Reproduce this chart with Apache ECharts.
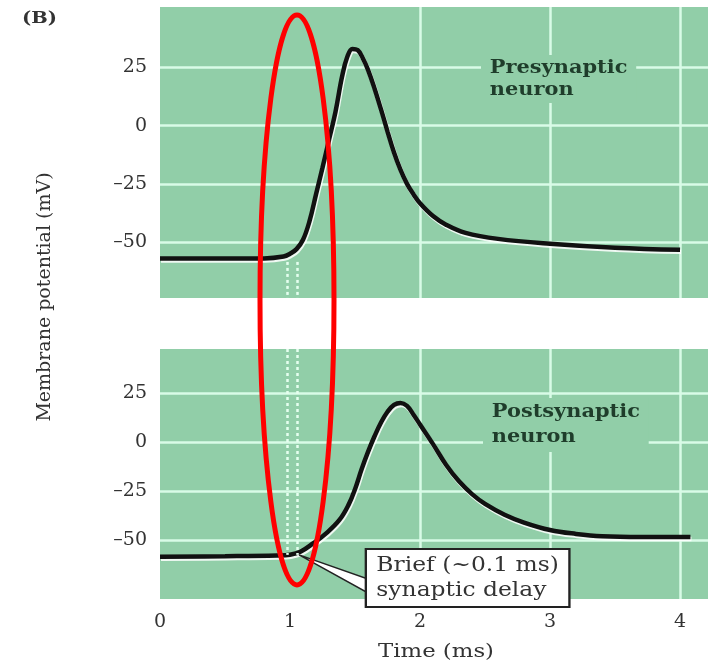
<!DOCTYPE html>
<html>
<head>
<meta charset="utf-8">
<script src="https://cdn.jsdelivr.net/npm/echarts@6.0.0/dist/echarts.min.js"></script>
<style>
html, body { margin: 0; padding: 0; background: #fff; }
#chart { width: 708px; height: 663px; }
</style>
</head>
<body>
<div id="chart"></div>
<script>
// axis ticks
const timeTicks = [0, 1, 2, 3, 4]
const timeGridLines = [2, 3, 4]
const mvTicks = [-50, -25, 0, 25]

// presynaptic action potential (ms, mV)
const preTime = [0, 0.4, 0.8, 0.95, 1.0, 1.05, 1.1, 1.15, 1.2, 1.25, 1.3, 1.35, 1.4, 1.44, 1.48, 1.52, 1.56, 1.6, 1.65, 1.7, 1.75, 1.8, 1.85, 1.9, 1.95, 2.0, 2.1, 2.2, 2.35, 2.6, 3.0, 3.5, 4.0]
const preMv = [-57, -57, -57, -56.2, -55, -53, -49, -41, -29.5, -18, -6, 6, 21, 29.5, 33, 32.5, 29, 24, 16, 7, -2.5, -11.5, -19, -25, -29.5, -33.3, -38.8, -42.5, -46, -48.6, -50.7, -52.4, -53.3]

// postsynaptic potential (ms, mV)
const postTime = [0, 0.5, 0.9, 1.0, 1.08, 1.18, 1.28, 1.38, 1.45, 1.5, 1.55, 1.6, 1.65, 1.7, 1.75, 1.8, 1.85, 1.9, 1.95, 2.0, 2.1, 2.2, 2.3, 2.4, 2.5, 2.65, 2.8, 3.0, 3.2, 3.4, 3.7, 4.08]
const postMv = [-58.5, -58.2, -57.8, -57.4, -55.9, -51.5, -46.4, -39.7, -32, -24, -14, -5, 3, 10, 15.5, 19, 20, 18.5, 14, 9, -1, -11.5, -20, -26.5, -31.5, -37, -41, -44.8, -46.8, -48, -48.4, -48.4]

// synaptic delay markers (ms)
const delayMarks = [0.977, 1.054]

const panelGreen = '#91cea8'
const gridWhite = '#d9fbe7'
const serif = 'DejaVu Serif'

function pairs(xs, ys) {
    return xs.map((x, i) => [x, ys[i]])
}

let myChart = echarts.init(document.getElementById('chart'))

function yAxisOf(gridIndex, min, max) {
    return {
        type: 'value',
        gridIndex: gridIndex,
        min: min,
        max: max,
        axisLine: { show: false },
        axisTick: { show: false, customValues: mvTicks },
        axisLabel: {
            customValues: mvTicks,
            margin: 13,
            color: '#333',
            fontFamily: serif,
            fontSize: 19,
            formatter: v => String(v).replace('-', '–')
        },
        splitLine: { show: true, lineStyle: { color: gridWhite, width: 2.5 } }
    }
}

function xAxisOf(gridIndex, showLabel) {
    return {
        type: 'value',
        gridIndex: gridIndex,
        min: 0,
        max: 4.215,
        axisLine: { show: false },
        axisTick: { show: false, customValues: timeGridLines },
        axisLabel: {
            show: showLabel,
            customValues: timeTicks,
            margin: 14,
            color: '#333',
            fontFamily: serif,
            fontSize: 19
        },
        splitLine: { show: true, lineStyle: { color: gridWhite, width: 2.5 } }
    }
}

const traceStyle = {
    color: '#111',
    width: 4.5,
    shadowColor: 'rgba(255,255,255,0.85)',
    shadowOffsetX: 1,
    shadowOffsetY: 2,
    shadowBlur: 0
}

function delayLines(fromMv, toMv) {
    return {
        silent: true,
        symbol: 'none',
        label: { show: false },
        lineStyle: { color: '#e6fff0', width: 2.5, type: [3, 3] },
        data: delayMarks.map(t => [{ coord: [t, fromMv] }, { coord: [t, toMv] }])
    }
}

let option = {
    animation: false,
    grid: [
        { left: 160, right: 0, top: 7, height: 291, show: true, backgroundColor: panelGreen, borderWidth: 0 },
        { left: 160, right: 0, top: 349, height: 250, show: true, backgroundColor: panelGreen, borderWidth: 0 }
    ],
    xAxis: [xAxisOf(0, false), xAxisOf(1, true)],
    yAxis: [yAxisOf(0, -74, 51), yAxisOf(1, -80, 47.5)],
    series: [
        {
            name: 'Presynaptic neuron',
            type: 'line',
            xAxisIndex: 0,
            yAxisIndex: 0,
            data: pairs(preTime, preMv),
            showSymbol: false,
            smooth: 0.4,
            lineStyle: traceStyle,
            markLine: delayLines(-58.5, -74)
        },
        {
            name: 'Postsynaptic neuron',
            type: 'line',
            xAxisIndex: 1,
            yAxisIndex: 1,
            data: pairs(postTime, postMv),
            showSymbol: false,
            smooth: 0.4,
            lineStyle: traceStyle,
            markLine: delayLines(47.5, -57.5)
        }
    ]
}

myChart.setOption(option)

// annotations
let junction = myChart.convertToPixel({ gridIndex: 1 }, [1.07, -57.5])

myChart.setOption({
    graphic: [
        {
            type: 'text', left: 22, top: 10,
            scaleX: 1.15,
            style: { text: '(B)', font: 'bold 17px "DejaVu Serif"', fill: '#333' }
        },
        {
            type: 'text', x: 45, y: 297, rotation: Math.PI / 2,
            style: {
                text: 'Membrane potential (mV)', font: '19px "DejaVu Serif"', fill: '#333',
                align: 'center', verticalAlign: 'middle'
            }
        },
        {
            type: 'text', x: 436, y: 652, scaleX: 1.2,
            style: {
                text: 'Time (ms)', font: '19px "DejaVu Serif"', fill: '#333',
                align: 'center', verticalAlign: 'middle'
            }
        },
        {
            type: 'text', x: 481, y: 55, scaleX: 1.1, z: 10,
            style: {
                text: 'Presynaptic\nneuron', font: 'bold 19px "DejaVu Serif"', fill: '#1f3d2b',
                lineHeight: 22, backgroundColor: panelGreen, padding: [2, 8]
            }
        },
        {
            type: 'text', x: 483, y: 398, scaleX: 1.1, z: 10,
            style: {
                text: 'Postsynaptic\nneuron', font: 'bold 19px "DejaVu Serif"', fill: '#1f3d2b',
                lineHeight: 25, backgroundColor: panelGreen, padding: [2, 8]
            }
        },
        {
            type: 'polygon', z: 20,
            shape: { points: [junction, [368, 579], [368, 593]] },
            style: { fill: '#fff', stroke: '#222', lineWidth: 1.5 }
        },
        {
            type: 'text', x: 367, y: 550, scaleX: 1.17, z: 21,
            style: {
                text: 'Brief (~0.1 ms)\nsynaptic delay', font: '20px "DejaVu Serif"', fill: '#333',
                lineHeight: 25, backgroundColor: '#fff', borderColor: '#222', borderWidth: 2,
                padding: [3, 8]
            }
        },
        {
            type: 'ellipse', z: 100,
            shape: { cx: 297, cy: 300, rx: 37, ry: 285 },
            style: { fill: 'none', stroke: '#ff0000', lineWidth: 5 }
        }
    ]
})
</script>
</body>
</html>
